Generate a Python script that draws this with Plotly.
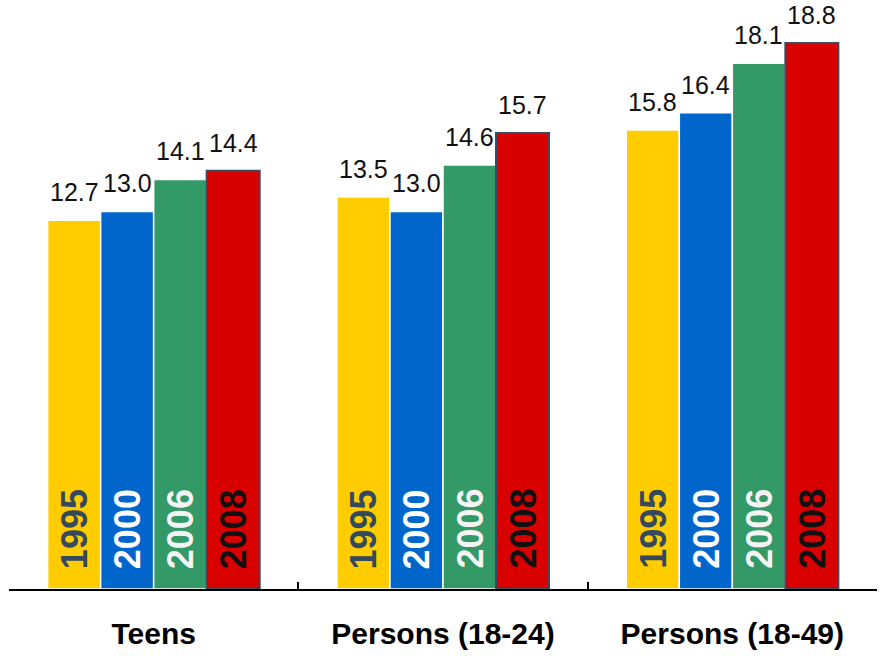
import plotly.graph_objects as go

# Audience groups and survey years
categories = ["Teens", "Persons (18-24)", "Persons (18-49)"]
years = ["1995", "2000", "2006", "2008"]

# Values per year, one entry per group
v1995 = [12.7, 13.5, 15.8]
v2000 = [13.0, 13.0, 16.4]
v2006 = [14.1, 14.6, 18.1]
v2008 = [14.4, 15.7, 18.8]
series = [v1995, v2000, v2006, v2008]

bar_colors = ["#FFCC00", "#0066CC", "#339966", "#D90000"]
edge_colors = ["#FFFFFF", "#FFFFFF", "#FFFFFF", "#3B4A5C"]
edge_widths = [1.5, 1.5, 1.5, 2]
year_font_colors = ["#34495E", "#FFFFFF", "#F4F4F4", "#111111"]

BARGAP = 0.267
group_w = 1 - BARGAP
bar_w = group_w / len(years)

fig = go.Figure()
annotations = []
for k, (yr, vals) in enumerate(zip(years, series)):
    fig.add_trace(go.Bar(
        x=categories, y=vals, name=yr,
        marker=dict(color=bar_colors[k],
                    line=dict(color=edge_colors[k], width=edge_widths[k])),
        showlegend=False, hoverinfo="x+y",
    ))
    offset = -group_w / 2 + (k + 0.5) * bar_w
    for i, v in enumerate(vals):
        # value above each bar
        annotations.append(dict(
            x=i + offset, y=v, xref="x", yref="y",
            text=f"{v:.1f}", showarrow=False,
            yanchor="bottom", xanchor="center", yshift=12,
            font=dict(family="Liberation Sans, Arial, sans-serif", size=25, color="#111111"),
        ))
        # year written up the base of each bar
        annotations.append(dict(
            x=i + offset, y=0, xref="x", yref="y",
            text=f"<b>{yr}</b>", showarrow=False, textangle=-90,
            yanchor="bottom", xanchor="center", yshift=18,
            font=dict(family="Liberation Sans, Arial, sans-serif", size=36,
                      color=year_font_colors[k]),
        ))

fig.update_layout(
    width=885, height=656,
    margin=dict(l=9, r=8, t=0, b=67),
    barmode="group", bargap=BARGAP, bargroupgap=0,
    plot_bgcolor="white", paper_bgcolor="white",
    annotations=annotations,
    xaxis=dict(
        type="category", tickson="boundaries", ticks="inside", ticklen=7,
        tickcolor="black", tickwidth=1.5,
        showline=True, linecolor="black", linewidth=2,
        showgrid=False, ticklabelstandoff=17,
        tickfont=dict(family="Liberation Sans, Arial, sans-serif", size=30, color="black"),
        tickvals=categories, ticktext=[f"<b>{c}</b>" for c in categories],
    ),
    yaxis=dict(range=[0, 20.28], visible=False, showgrid=False, zeroline=False),
)

fig.write_html("out.html")
